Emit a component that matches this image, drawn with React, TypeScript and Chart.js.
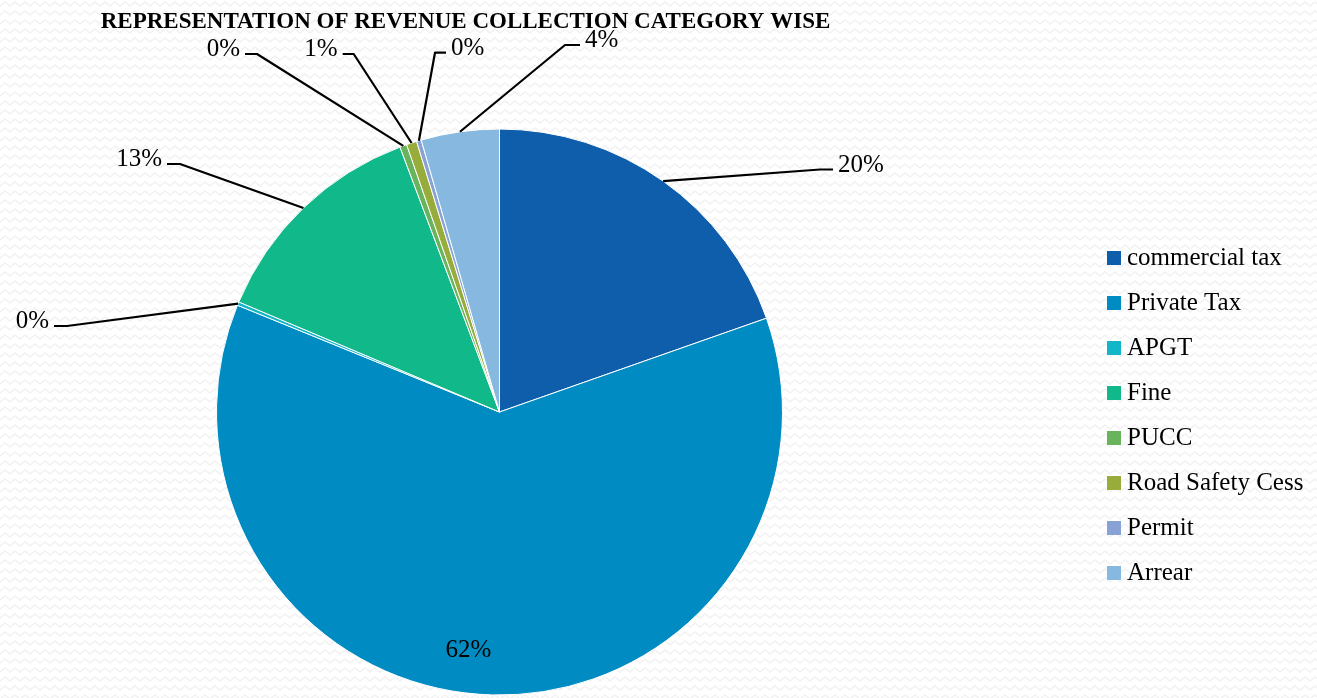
import React, { useEffect, useRef } from "react";
import { Chart, registerables } from "chart.js";

Chart.register(...registerables);

const chartTitle = "REPRESENTATION OF REVENUE COLLECTION CATEGORY WISE";
const categories = [
  "commercial tax",
  "Private Tax",
  "APGT",
  "Fine",
  "PUCC",
  "Road Safety Cess",
  "Permit",
  "Arrear",
];
const shares = [19.62, 61.53, 0.2, 12.92, 0.4, 0.59, 0.27, 4.46];
const sliceColors = [
  "#0E5EAB",
  "#008CC2",
  "#11B7C8",
  "#10B88A",
  "#68B35B",
  "#98AC3C",
  "#88A2D6",
  "#86B8E0",
];

// Label placement (offsets from the pie centre, px). side: 1 = text to the right of the leader end, -1 = left
const labelLayout = [
  { inside: false, ex: 333.5, ey: -242.5, side: 1, elbow: 13 },
  { inside: true, ex: -31, ey: 245, side: 0, elbow: 0 },
  { inside: false, ex: -445.5, ey: -86, side: -1, elbow: 13 },
  { inside: false, ex: -332.5, ey: -248, side: -1, elbow: 13 },
  { inside: false, ex: -254.5, ey: -358, side: -1, elbow: 12 },
  { inside: false, ex: -156.8, ey: -358, side: -1, elbow: 11 },
  { inside: false, ex: -53.5, ey: -359.3, side: 1, elbow: 11 },
  { inside: false, ex: 80.5, ey: -367, side: 1, elbow: 15 },
];

const FONT = '"Liberation Serif", "Times New Roman", serif';

function makePattern(ctx: CanvasRenderingContext2D) {
  const c = document.createElement("canvas");
  c.width = 10;
  c.height = 9;
  const p = c.getContext("2d")!;
  p.fillStyle = "#ffffff";
  p.fillRect(0, 0, 10, 9);
  p.strokeStyle = "#f2f2f2";
  p.lineWidth = 1.5;
  p.beginPath();
  p.moveTo(-5, 2);
  p.lineTo(0, 6);
  p.lineTo(5, 2);
  p.lineTo(10, 6);
  p.lineTo(15, 2);
  p.stroke();
  return ctx.createPattern(c, "repeat");
}

const decorPlugin = {
  id: "decor",
  beforeDraw(chart: any) {
    const ctx: CanvasRenderingContext2D = chart.ctx;
    ctx.save();
    const pat = makePattern(ctx);
    ctx.fillStyle = pat || "#fafafa";
    ctx.fillRect(0, 0, chart.width, chart.height);
    ctx.restore();
  },
  afterDatasetsDraw(chart: any) {
    const ctx: CanvasRenderingContext2D = chart.ctx;
    const meta = chart.getDatasetMeta(0);
    const data: number[] = chart.data.datasets[0].data;
    const colors: string[] = chart.data.datasets[0].backgroundColor;
    const total = data.reduce((a, b) => a + b, 0);
    ctx.save();

    meta.data.forEach((arc: any, i: number) => {
      const { x, y, startAngle, endAngle, outerRadius } = arc.getProps(
        ["x", "y", "startAngle", "endAngle", "outerRadius"],
        true
      );
      const mid = (startAngle + endAngle) / 2;
      const lay = labelLayout[i];
      const txt = Math.round((data[i] / total) * 100) + "%";
      ctx.font = `25px ${FONT}`;
      ctx.fillStyle = "#000";
      ctx.textBaseline = "alphabetic";
      if (lay.inside) {
        ctx.textAlign = "center";
        ctx.fillText(txt, x + lay.ex, y + lay.ey);
        return;
      }
      const sx = x + Math.cos(mid) * outerRadius;
      const sy = y + Math.sin(mid) * outerRadius;
      const exx = x + lay.ex;
      const eyy = y + lay.ey;
      const bx = exx - lay.side * lay.elbow;
      ctx.strokeStyle = "#000";
      ctx.lineWidth = 2.2;
      ctx.lineJoin = "round";
      ctx.beginPath();
      ctx.moveTo(sx, sy);
      ctx.lineTo(bx, eyy);
      ctx.lineTo(exx, eyy);
      ctx.stroke();
      ctx.textAlign = lay.side > 0 ? "left" : "right";
      ctx.fillText(txt, exx + lay.side * 5, eyy + 2);
    });

    // Title
    ctx.font = `bold 23px ${FONT}`;
    ctx.fillStyle = "#000";
    ctx.textAlign = "center";
    ctx.textBaseline = "alphabetic";
    ctx.fillText(chartTitle, 465.5, 28);

    // Legend
    ctx.font = `25px ${FONT}`;
    ctx.textAlign = "left";
    chart.data.labels.forEach((lab: string, i: number) => {
      const top = 251 + i * 45;
      ctx.fillStyle = colors[i];
      ctx.fillRect(1107, top, 14, 14);
      ctx.fillStyle = "#000";
      ctx.fillText(lab, 1127, top + 14);
    });
    ctx.restore();
  },
};

export default function App() {
  const ref = useRef<HTMLCanvasElement>(null);
  useEffect(() => {
    document.body.style.margin = "0";
    const chart = new Chart(ref.current!, {
      type: "pie",
      data: {
        labels: categories,
        datasets: [
          {
            data: shares,
            backgroundColor: sliceColors,
            borderColor: "#ffffff",
            borderWidth: 1,
          },
        ],
      },
      options: {
        animation: false,
        responsive: true,
        maintainAspectRatio: false,
        layout: { padding: { top: 128.5, bottom: 2.5, left: 100, right: 418 } },
        plugins: {
          legend: { display: false },
          title: { display: false },
          tooltip: { enabled: false },
        },
      },
      plugins: [decorPlugin],
    });
    return () => chart.destroy();
  }, []);
  return (
    <div style={{ position: "fixed", left: 0, top: 0, width: 1317, height: 698 }}>
      <canvas ref={ref} />
    </div>
  );
}
